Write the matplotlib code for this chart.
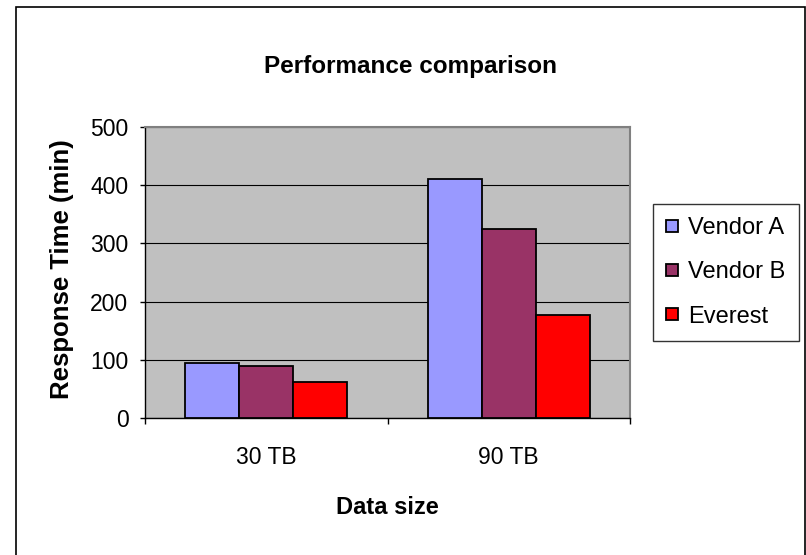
import numpy as np
import matplotlib
matplotlib.use("Agg")
import matplotlib.pyplot as plt
from matplotlib.patches import Rectangle

categories = ["30 TB", "90 TB"]
series_names = ["Vendor A", "Vendor B", "Everest"]
vendor_a = [94, 411]
vendor_b = [89, 325]
everest = [61, 177]
colors = ["#9999FF", "#993366", "#FF0000"]

plt.rcParams["font.family"] = ["Liberation Sans", "DejaVu Sans"]

W, H = 806, 555
fig = plt.figure(figsize=(W / 100, H / 100), dpi=100)
ax = fig.add_axes([145 / W, 1 - 418 / H, 485 / W, 291 / H])
ax.set_facecolor("#C0C0C0")

x = np.arange(len(categories))
bw = 0.223
for i, (vals, name, c) in enumerate(zip([vendor_a, vendor_b, everest], series_names, colors)):
    ax.bar(x + (i - 1) * bw, vals, bw, color=c, edgecolor="black",
           linewidth=1.3, label=name, zorder=3)

ax.set_xlim(-0.5, 1.5)
ax.set_ylim(0, 500)
ax.set_yticks(range(0, 501, 100))
ax.yaxis.grid(True, color="black", linewidth=0.8)
ax.set_axisbelow(True)

# category boundaries get tick marks, labels sit in between
ax.set_xticks([-0.5, 0.5, 1.5])
ax.set_xticklabels([])
ax.set_xticks(x, minor=True)
ax.set_xticklabels(categories, minor=True)
ax.tick_params(axis="x", which="minor", length=0, pad=20.5, labelsize=16.5)
ax.tick_params(axis="x", which="major", length=4.3, width=1, color="black")
ax.tick_params(axis="y", length=3.6, width=1, pad=8.3, labelsize=16.5)

for s in ["left", "bottom"]:
    ax.spines[s].set_color("black")
    ax.spines[s].set_linewidth(1)
for s in ["top", "right"]:
    ax.spines[s].set_color("#808080")
    ax.spines[s].set_linewidth(1.5)

fig.text(410 / W, 1 - 66 / H, "Performance comparison", ha="center", va="center",
         fontsize=17.5, fontweight="bold")
fig.text(62 / W, 1 - 269 / H, "Response Time (min)", ha="center", va="center",
         rotation=90, fontsize=18.5, fontweight="bold")
fig.text(387 / W, 1 - 507 / H, "Data size", ha="center", va="center",
         fontsize=17, fontweight="bold")

leg = fig.legend(loc="upper left", bbox_to_anchor=(653 / W, 1 - 204 / H),
                 frameon=True, fancybox=False, edgecolor="black", borderaxespad=0,
                 fontsize=17, handlelength=0.5, handleheight=0.4,
                 handletextpad=0.45, labelspacing=0.95, borderpad=0.55)
leg.get_frame().set_linewidth(1)

# chart-area border
fig.add_artist(Rectangle((16 / W, -0.05), (805 - 16) / W, 1 - 7 / H + 0.05,
                         transform=fig.transFigure, fill=False,
                         edgecolor="black", linewidth=1.2))

fig.savefig("out.png", dpi=100)
